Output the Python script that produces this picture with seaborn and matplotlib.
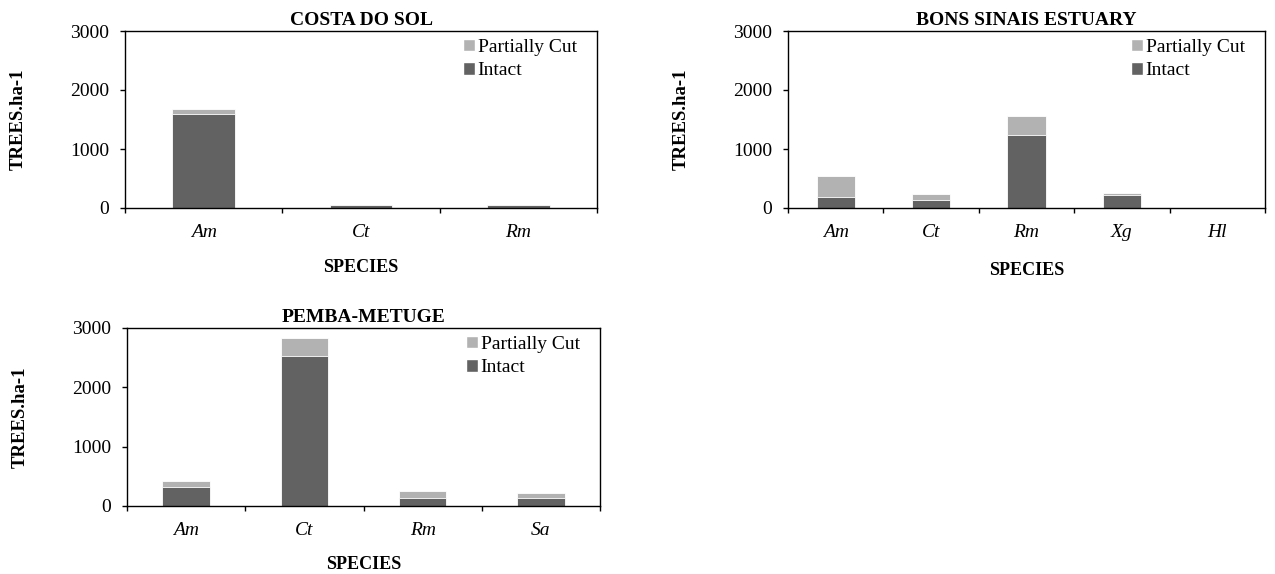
import matplotlib
matplotlib.use("Agg")
import matplotlib.pyplot as plt
import seaborn as sns
import pandas as pd
from matplotlib.patches import Patch

sns.set_theme(style="white")
plt.rcParams['font.family'] = ['Liberation Serif', 'DejaVu Serif']
plt.rcParams['text.color'] = 'black'
plt.rcParams['axes.labelcolor'] = 'black'
plt.rcParams['xtick.color'] = 'black'
plt.rcParams['ytick.color'] = 'black'

# ---- data ----
titles = ["COSTA DO SOL", "BONS SINAIS ESTUARY", "PEMBA-METUGE"]
species_cds = ["Am", "Ct", "Rm"]
intact_cds = [1600, 50, 50]
partial_cds = [85, 5, 5]

species_bse = ["Am", "Ct", "Rm", "Xg", "Hl"]
intact_bse = [180, 130, 1235, 225, 5]
partial_bse = [355, 105, 330, 35, 3]

species_pm = ["Am", "Ct", "Rm", "Sa"]
intact_pm = [315, 2530, 140, 140]
partial_pm = [100, 300, 110, 85]

yticks = [0, 1000, 2000, 3000]
c_intact = "#626262"
c_partial = "#b2b2b2"

W, H = 1275, 574
fig = plt.figure(figsize=(W / 100, H / 100), dpi=100)

# pixel boxes (left, top, right, bottom)
boxes = [(125, 31, 597, 208), (788, 31, 1265, 208), (127, 328, 600, 506)]
datasets = [(species_cds, intact_cds, partial_cds),
            (species_bse, intact_bse, partial_bse),
            (species_pm, intact_pm, partial_pm)]
xlabel_pad = [51, 54, 50]

for (l, t, r, b), title, (sp, it, pc), xp in zip(boxes, titles, datasets, xlabel_pad):
    ax = fig.add_axes([l / W, 1 - b / H, (r - l) / W, (b - t) / H])
    df = pd.DataFrame({"species": sp, "intact": it, "partial": pc})
    df["total"] = df["intact"] + df["partial"]
    sns.barplot(data=df, x="species", y="total", color=c_partial, width=0.4,
                saturation=1, ax=ax, edgecolor="white", linewidth=0.6)
    sns.barplot(data=df, x="species", y="intact", color=c_intact, width=0.4,
                saturation=1, ax=ax, edgecolor="white", linewidth=0.6)
    n = len(sp)
    ax.set_xlim(-0.5, n - 0.5)
    ax.set_ylim(0, 3000)
    ax.set_yticks(yticks)
    ax.set_yticklabels([str(v) for v in yticks], fontsize=14)
    ax.set_xticks(range(n))
    ax.set_xticklabels(sp, fontsize=14, style="italic")
    ax.set_xticks([i - 0.5 for i in range(n + 1)], minor=True)
    ax.tick_params(axis="x", which="major", bottom=True, length=0, pad=11.5)
    ax.tick_params(axis="x", which="minor", bottom=True, length=3.6, width=1,
                   direction="out", color="black")
    ax.tick_params(axis="y", which="major", left=True, length=3.6, width=1,
                   direction="out", color="black", pad=8)
    for s in ax.spines.values():
        s.set_visible(True)
        s.set_color("black")
        s.set_linewidth(1.0)
    ax.set_title(title, fontsize=14, fontweight="bold", pad=4.5)
    ax.set_ylabel("TREES.ha-1", fontsize=13.5, fontweight="bold")
    ax.yaxis.set_label_coords(-98 / (r - l), 0.5)
    ax.set_xlabel("SPECIES", fontsize=13, fontweight="bold")
    ax.xaxis.set_label_coords(0.5, -xp / (b - t))
    handles = [Patch(facecolor=c_partial, label="Partially Cut"),
               Patch(facecolor=c_intact, label="Intact")]
    ax.legend(handles=handles, loc="upper left", frameon=False, fontsize=14,
              bbox_to_anchor=(1 - 134 / (r - l), 1 - 8 / (b - t)),
              handlelength=0.6, handleheight=0.6, handletextpad=0.15,
              labelspacing=0.33, borderaxespad=0, borderpad=0)

fig.savefig("out.png", dpi=100, facecolor="white")
